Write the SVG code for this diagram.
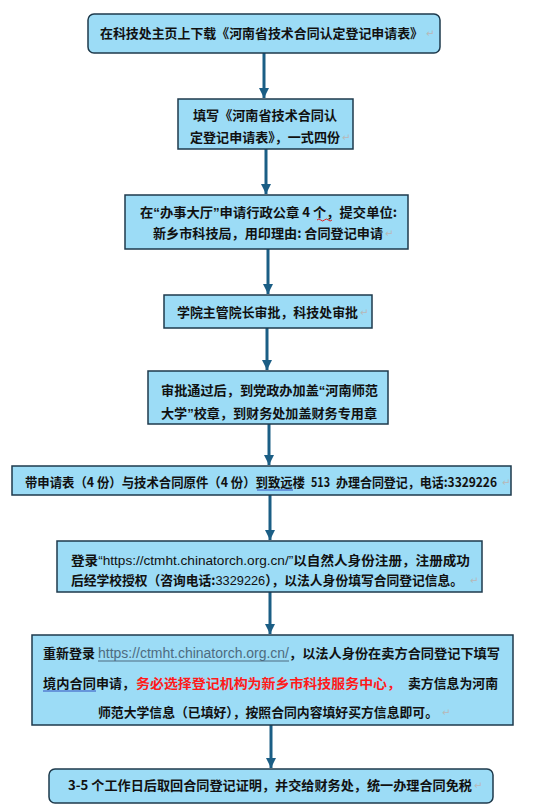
<svg xmlns="http://www.w3.org/2000/svg" width="542" height="808" viewBox="0 0 542 808">
<style>
.box{fill:#9cdcf6;stroke:#1e3a4c;stroke-width:1.5}
.t{font-family:"Noto Sans CJK SC","Liberation Sans",sans-serif;font-size:13px;font-weight:bold;fill:#111}
.q{font-family:"Liberation Sans",sans-serif}
.lat{font-family:"Liberation Sans",sans-serif;font-weight:normal}
.pm{font-family:"DejaVu Sans",sans-serif;font-size:10px;fill:#b8b8b8}
.red{fill:#ff1a1a}
.link{fill:#4d6b80;font-family:"Liberation Sans",sans-serif;font-weight:normal;font-size:14px}
.conn{stroke:#1b5e85;stroke-width:3;fill:none}
</style>
<defs>
<marker id="ah" markerUnits="userSpaceOnUse" markerWidth="12" markerHeight="10" refX="10" refY="5" orient="auto">
<path d="M0,0 L10,5 L0,10 Z" fill="#1b5e85"/>
</marker>
</defs>
<g id="connectors">
<line class="conn" x1="264" y1="53" x2="264" y2="98" marker-end="url(#ah)"/>
<line class="conn" x1="266" y1="149" x2="266" y2="194" marker-end="url(#ah)"/>
<line class="conn" x1="268" y1="249" x2="268" y2="294" marker-end="url(#ah)"/>
<line class="conn" x1="267" y1="328" x2="267" y2="370" marker-end="url(#ah)"/>
<line class="conn" x1="269" y1="424" x2="269" y2="465" marker-end="url(#ah)"/>
<line class="conn" x1="270" y1="495" x2="270" y2="540" marker-end="url(#ah)"/>
<line class="conn" x1="270" y1="592" x2="270" y2="634" marker-end="url(#ah)"/>
<line class="conn" x1="271" y1="725" x2="271" y2="768" marker-end="url(#ah)"/>
</g>
<g id="n1">
<rect class="box" x="88" y="14" width="352" height="39" rx="6"/>
<text class="t" x="100" y="38" textLength="323" lengthAdjust="spacingAndGlyphs">在科技处主页上下载《河南省技术合同认定登记申请表》</text>
<text class="pm" x="426" y="37">↵</text>
</g>
<g id="n2">
<rect class="box" x="178" y="99" width="175" height="50"/>
<text class="t" x="193" y="120" textLength="144" lengthAdjust="spacingAndGlyphs">填写《河南省技术合同认</text>
<text class="t" x="190" y="142" textLength="150" lengthAdjust="spacingAndGlyphs">定登记申请表》，一式四份</text>
<text class="pm" x="342" y="141">↵</text>
</g>
<g id="n3">
<rect class="box" x="125" y="195" width="283" height="54"/>
<text class="t" x="140" y="217" textLength="257" lengthAdjust="spacingAndGlyphs">在<tspan class="q">“</tspan>办事大厅<tspan class="q">”</tspan>申请行政公章 4 个，提交单位:</text>
<path d="M317,220 q1.9,-2 3.75,0 t3.75,0 t3.75,0 t3.75,0" stroke="#e02020" stroke-width="1" fill="none"/>
<text class="t" x="153" y="238" textLength="230" lengthAdjust="spacingAndGlyphs">新乡市科技局，用印理由: 合同登记申请</text>
<text class="pm" x="385" y="237">↵</text>
</g>
<g id="n4">
<rect class="box" x="164" y="295" width="208" height="33"/>
<text class="t" x="177" y="317" textLength="181" lengthAdjust="spacingAndGlyphs">学院主管院长审批，科技处审批</text>
<text class="pm" x="360" y="316">↵</text>
</g>
<g id="n5">
<rect class="box" x="148" y="371" width="240" height="53"/>
<text class="t" x="161" y="395" textLength="217" lengthAdjust="spacingAndGlyphs">审批通过后，到党政办加盖<tspan class="q">“</tspan>河南师范</text>
<text class="t" x="161" y="418" textLength="216" lengthAdjust="spacingAndGlyphs">大学<tspan class="q">”</tspan>校章，到财务处加盖财务专用章</text>
</g>
<g id="n6">
<rect class="box" x="12" y="466" width="499" height="29"/>
<text class="t" x="25" y="487" font-size="11.5" textLength="280" lengthAdjust="spacingAndGlyphs">带申请表（4 份）与技术合同原件（4 份）到致远楼</text>
<text class="t" x="311" y="487" font-family="Liberation Serif" textLength="19" lengthAdjust="spacingAndGlyphs">513</text>
<text class="t" x="336" y="487" font-size="12.5" textLength="161" lengthAdjust="spacingAndGlyphs">办理合同登记，电话:3329226</text>
<line x1="257" y1="490" x2="293" y2="490" stroke="#3050c0" stroke-width="1"/>
<text class="pm" x="502" y="486">↵</text>
</g>
<g id="n7">
<rect class="box" x="57" y="541" width="425" height="51"/>
<text class="t" x="71" y="565" textLength="399" lengthAdjust="spacingAndGlyphs">登录<tspan class="lat">“https://ctmht.chinatorch.org.cn/”</tspan>以自然人身份注册，注册成功</text>
<text class="t" x="71" y="585" textLength="392" lengthAdjust="spacingAndGlyphs">后经学校授权（咨询电话:<tspan class="lat">3329226</tspan>），以法人身份填写合同登记信息。</text>
<text class="pm" x="470" y="584">↵</text>
</g>
<g id="n8">
<rect class="box" x="32" y="635" width="481" height="90"/>
<text class="t" x="43" y="658" textLength="52" lengthAdjust="spacingAndGlyphs">重新登录</text>
<text class="t link" x="98" y="658" textLength="191" lengthAdjust="spacingAndGlyphs">https://ctmht.chinatorch.org.cn/</text>
<line x1="98" y1="661" x2="289" y2="661" stroke="#4d6b80" stroke-width="1"/>
<text class="t" x="289" y="658" textLength="211" lengthAdjust="spacingAndGlyphs">，以法人身份在卖方合同登记下填写</text>
<text class="t" x="43" y="688" textLength="53" lengthAdjust="spacingAndGlyphs">境内合同</text>
<line x1="43" y1="691" x2="96" y2="691" stroke="#3050c0" stroke-width="1"/>
<text class="t" x="96" y="688" textLength="39" lengthAdjust="spacingAndGlyphs">申请，</text>
<text class="t red" x="136" y="688" textLength="265" lengthAdjust="spacingAndGlyphs">务必选择登记机构为新乡市科技服务中心，</text>
<text class="t" x="408" y="688" textLength="90" lengthAdjust="spacingAndGlyphs">卖方信息为河南</text>
<text class="t" x="98" y="717" textLength="340" lengthAdjust="spacingAndGlyphs">师范大学信息（已填好），按照合同内容填好买方信息即可。</text>
<text class="pm" x="442" y="716">↵</text>
</g>
<g id="n9">
<rect class="box" x="49" y="769" width="444" height="34" rx="6"/>
<text class="t" x="68" y="790" textLength="404" lengthAdjust="spacingAndGlyphs">3-5 个工作日后取回合同登记证明，并交给财务处，统一办理合同免税</text>
<text class="pm" x="474" y="789">↵</text>
</g>
</svg>
